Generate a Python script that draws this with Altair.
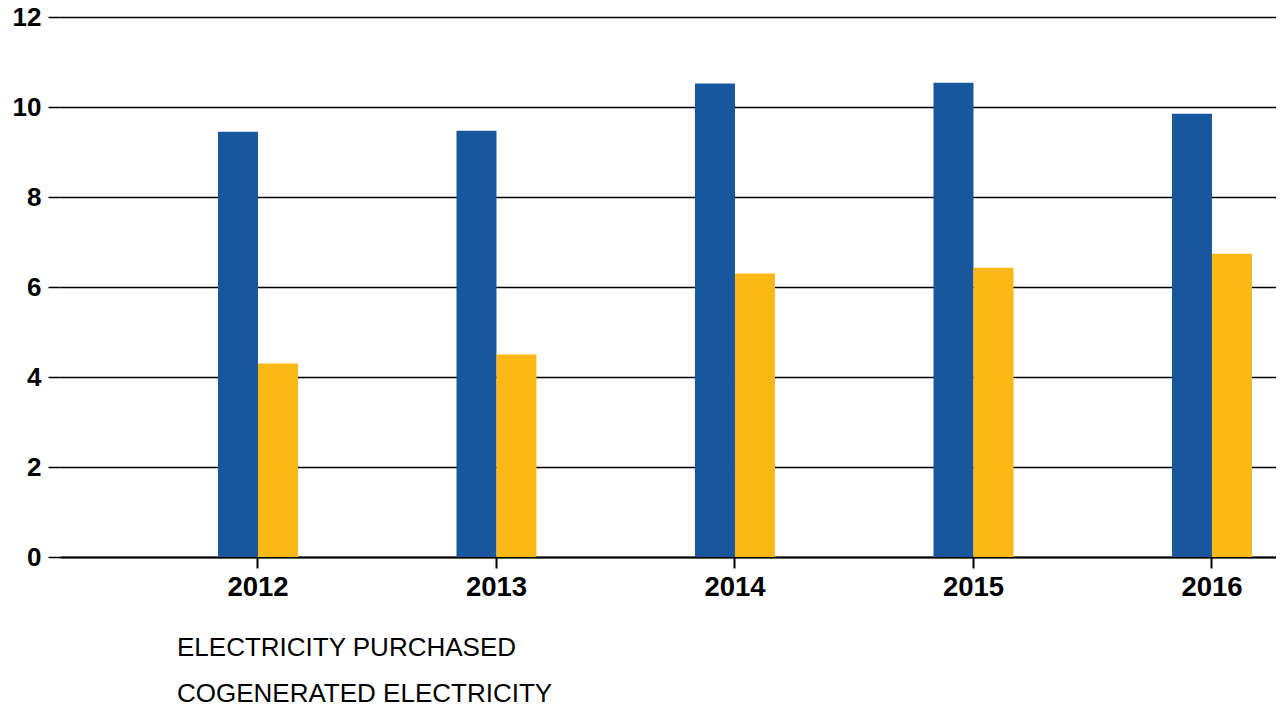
import altair as alt
import pandas as pd

years = ["2012", "2013", "2014", "2015", "2016"]
series = ["ELECTRICITY PURCHASED", "COGENERATED ELECTRICITY"]
purchased = [9.45, 9.47, 10.52, 10.54, 9.85]
cogenerated = [4.30, 4.50, 6.30, 6.43, 6.74]
y_ticks = [0, 2, 4, 6, 8, 10, 12]
colors = ["#18579E", "#FCB815"]

rows = []
for i, yr in enumerate(years):
    rows.append({"year": yr, "series": series[0], "value": purchased[i]})
    rows.append({"year": yr, "series": series[1], "value": cogenerated[i]})
df = pd.DataFrame(rows)

FONT = "Liberation Sans"

chart = alt.Chart(df).mark_bar().encode(
    x=alt.X(
        "year:N",
        sort=years,
        scale=alt.Scale(paddingInner=0.6646, paddingOuter=0.3816, align=0.868, round=False),
        axis=alt.Axis(
            title=None, labelAngle=0, labelFont=FONT, labelFontSize=27.5,
            labelFontWeight="bold", labelColor="black", domainColor="black",
            domainWidth=2, tickColor="black", tickSize=11, tickWidth=2,
            labelPadding=5, grid=False,
        ),
    ),
    xOffset=alt.XOffset("series:N", sort=series),
    y=alt.Y(
        "value:Q",
        scale=alt.Scale(domain=[0, 12], nice=False),
        axis=alt.Axis(
            values=y_ticks, title=None, grid=True, gridColor="black",
            gridWidth=1.5, domain=False, tickSize=12, tickColor="black",
            tickWidth=1.5, labelFont=FONT, labelFontSize=26,
            labelFontWeight="bold", labelColor="black", labelPadding=7,
        ),
    ),
    color=alt.Color(
        "series:N",
        sort=series,
        scale=alt.Scale(domain=series, range=colors),
        legend=alt.Legend(
            title=None, orient="none", legendX=91, legendY=618,
            direction="vertical", symbolSize=0, symbolOpacity=0,
            symbolStrokeWidth=0, labelFont=FONT, labelFontSize=26,
            labelColor="black", labelOffset=0, rowPadding=20, padding=0,
            labelLimit=600,
        ),
    ),
).properties(
    width=1216,
    height=540,
    autosize=alt.AutoSizeParams(type="none"),
    padding={"left": 52, "top": 9, "right": 0, "bottom": 146},
).configure_view(stroke=None)

chart.save("out.html", embed_options={"renderer": "svg", "actions": False})
